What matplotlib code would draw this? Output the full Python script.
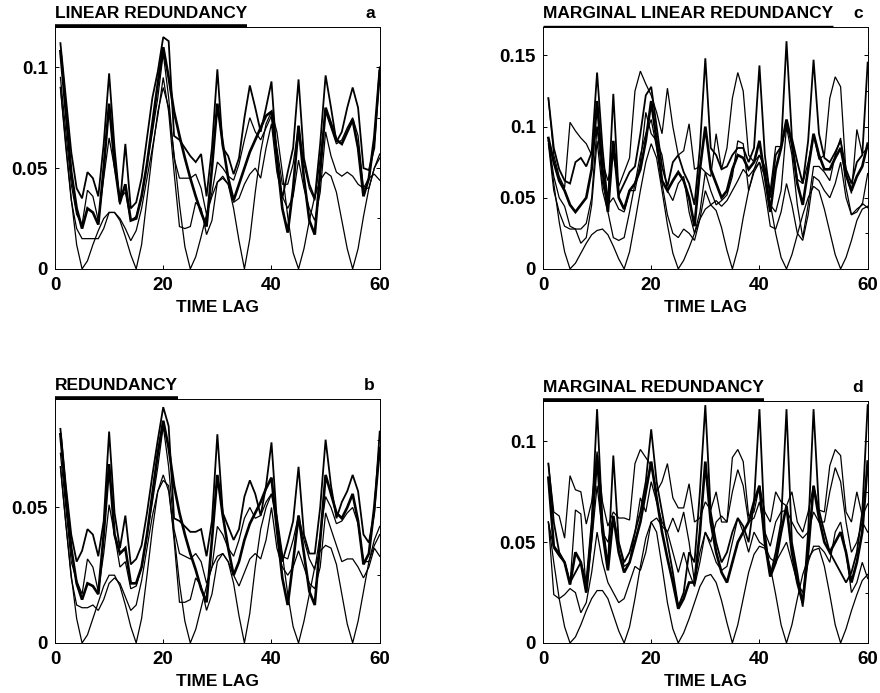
import numpy as np
import matplotlib
matplotlib.use("Agg")
import matplotlib.pyplot as plt
from matplotlib.ticker import MultipleLocator

plt.rcParams['font.family'] = ['Liberation Sans', 'DejaVu Sans']
plt.rcParams['font.weight'] = 'bold'

lags = list(range(1, 61))

# ---------------- panel a : LINEAR REDUNDANCY (values x 1e-3) ----------------
a_top = [112, 85, 58, 40, 35, 48, 45, 36, 62, 97,
         60, 32, 62, 30, 33, 45, 65, 85, 98, 115,
         113, 66, 64, 60, 56, 53, 57, 36, 60, 99,
         60, 56, 47, 55, 75, 91, 80, 68, 80, 93,
         55, 35, 48, 60, 94, 55, 42, 35, 62, 96,
         80, 63, 68, 80, 90, 80, 50, 49, 60, 100]
a_thick = [108, 78, 48, 30, 20, 30, 28, 22, 50, 82,
           52, 33, 42, 24, 25, 36, 52, 72, 92, 110,
           95, 78, 66, 55, 45, 36, 28, 21, 50, 82,
           62, 45, 34, 42, 50, 58, 64, 70, 76, 78,
           55, 30, 18, 40, 71, 45, 24, 17, 48, 80,
           72, 64, 62, 68, 74, 60, 36, 45, 65, 98]
a_mid = [95, 68, 42, 27, 22, 39, 36, 24, 45, 65,
         50, 35, 38, 24, 26, 36, 52, 68, 85, 107,
         85, 55, 45, 45, 45, 47, 40, 27, 38, 53,
         50, 46, 44, 52, 64, 75, 68, 64, 70, 76,
         60, 42, 42, 52, 71, 52, 40, 34, 55, 78,
         70, 62, 64, 70, 75, 66, 40, 40, 50, 57]
a_low = [90, 60, 34, 20, 15, 15, 15, 15, 20, 28,
         28, 25, 20, 14, 19, 30, 45, 60, 76, 95,
         78, 48, 21, 20, 21, 33, 30, 17, 24, 43,
         45, 42, 33, 35, 42, 47, 50, 45, 60, 72,
         48, 36, 30, 36, 54, 40, 30, 24, 38, 68,
         56, 48, 46, 48, 46, 42, 40, 45, 47, 44]
a_bot = [90, 62, 35, 12, 0, 4, 12, 19, 25, 28,
         28, 24, 16, 7, 0, 12, 35, 58, 78, 90,
         80, 57, 32, 11, 0, 6, 16, 27, 36, 43,
         46, 42, 30, 14, 0, 15, 38, 58, 72, 78,
         68, 48, 26, 8, 0, 10, 24, 36, 44, 48,
         46, 38, 24, 10, 0, 10, 26, 40, 50, 55]

# ---------------- panel b : REDUNDANCY ----------------
b_top = [79, 58, 40, 30, 34, 42, 40, 32, 45, 78,
         48, 35, 47, 29, 31, 36, 48, 62, 75, 87,
         80, 46, 45, 43, 41, 41, 42, 32, 45, 77,
         48, 43, 38, 42, 54, 60, 55, 47, 58, 74,
         45, 30, 37, 45, 65, 40, 33, 33, 50, 75,
         58, 46, 52, 56, 62, 56, 40, 37, 48, 78]
b_thick = [77, 55, 35, 22, 16, 22, 21, 18, 40, 66,
           40, 33, 35, 22, 22, 28, 40, 55, 70, 82,
           72, 58, 48, 40, 33, 27, 20, 15, 38, 62,
           47, 35, 25, 30, 38, 44, 48, 52, 57, 61,
           42, 24, 14, 30, 47, 33, 19, 14, 38, 62,
           55, 48, 46, 50, 55, 45, 29, 33, 50, 72]
b_mid = [70, 50, 30, 23, 18, 31, 28, 19, 33, 51,
         40, 28, 30, 20, 21, 28, 40, 52, 65, 80,
         65, 42, 33, 32, 31, 33, 30, 22, 28, 43,
         40, 35, 32, 38, 46, 50, 46, 47, 52, 55,
         44, 32, 31, 38, 47, 38, 31, 27, 40, 54,
         50, 44, 45, 48, 50, 44, 30, 30, 38, 43]
b_low = [65, 44, 24, 14, 13, 13, 14, 12, 16, 22,
         24, 22, 17, 12, 14, 23, 35, 47, 56, 60,
         58, 38, 15, 15, 16, 24, 21, 12, 18, 30,
         33, 30, 25, 21, 26, 31, 33, 31, 38, 50,
         35, 28, 25, 28, 34, 28, 22, 20, 28, 48,
         42, 36, 30, 31, 31, 28, 24, 28, 35, 32]
b_bot = [65, 44, 25, 9, 0, 3, 9, 15, 21, 25,
         25, 21, 14, 6, 0, 9, 25, 42, 56, 62,
         56, 40, 22, 8, 0, 5, 13, 21, 28, 32,
         33, 30, 22, 10, 0, 11, 28, 42, 50, 55,
         47, 33, 18, 6, 0, 8, 18, 28, 34, 36,
         35, 29, 18, 7, 0, 8, 19, 30, 36, 40]

# ---------------- panel c : MARGINAL LINEAR REDUNDANCY ----------------
c_top = [120, 85, 70, 62, 60, 75, 78, 72, 82, 138,
         85, 45, 123, 52, 60, 68, 72, 95, 122, 128,
         100, 72, 58, 75, 80, 68, 60, 45, 85, 148,
         85, 80, 70, 72, 80, 85, 85, 75, 85, 143,
         80, 50, 80, 86, 160, 92, 75, 60, 90, 147,
         95, 78, 75, 82, 90, 70, 60, 75, 80, 145]
c_thick = [92, 75, 62, 55, 45, 40, 45, 50, 70, 118,
           70, 40, 90, 50, 42, 55, 60, 70, 90, 118,
           90, 62, 55, 62, 68, 62, 50, 30, 70, 100,
           70, 60, 50, 55, 70, 80, 78, 70, 75, 90,
           65, 40, 70, 85, 105, 88, 60, 45, 70, 95,
           80, 70, 70, 78, 85, 66, 55, 65, 72, 88]
c_up = [120, 80, 65, 57, 103, 97, 92, 88, 80, 100,
        75, 62, 80, 58, 68, 78, 125, 139, 130, 122,
        110, 95, 127, 100, 80, 83, 102, 70, 72, 68,
        65, 95, 70, 85, 120, 138, 125, 80, 75, 80,
        72, 55, 86, 86, 100, 91, 63, 60, 75, 94,
        77, 80, 120, 135, 128, 67, 53, 98, 81, 85]
c_mid = [90, 65, 50, 44, 30, 28, 28, 32, 50, 100,
         60, 45, 50, 42, 40, 55, 55, 75, 110, 95,
         90, 80, 55, 48, 60, 65, 40, 25, 40, 68,
         55, 45, 48, 52, 65, 90, 88, 55, 70, 80,
         70, 45, 40, 55, 100, 80, 45, 22, 45, 72,
         72, 68, 62, 80, 92, 57, 38, 40, 46, 43]
c_low = [88, 55, 40, 30, 28, 28, 18, 22, 45, 90,
         55, 40, 22, 20, 22, 40, 60, 80, 95, 105,
         85, 60, 38, 25, 22, 28, 25, 20, 35, 55,
         45, 48, 44, 48, 55, 62, 70, 65, 70, 75,
         55, 30, 28, 40, 60, 45, 25, 20, 38, 65,
         62, 55, 50, 60, 75, 50, 38, 42, 45, 67]
c_bot = [90, 60, 33, 12, 0, 4, 11, 18, 24, 27,
         28, 24, 16, 7, 0, 12, 33, 55, 75, 88,
         78, 55, 31, 11, 0, 6, 15, 25, 35, 42,
         45, 41, 29, 13, 0, 14, 36, 55, 68, 75,
         65, 46, 25, 8, 0, 10, 24, 38, 50, 58,
         55, 42, 26, 10, 0, 8, 20, 34, 42, 44]

# ---------------- panel d : MARGINAL REDUNDANCY ----------------
d_top = [89, 60, 45, 40, 30, 35, 40, 30, 60, 116,
         60, 38, 93, 50, 40, 45, 55, 65, 80, 106,
         80, 65, 50, 35, 18, 25, 45, 40, 75, 118,
         65, 50, 40, 45, 55, 62, 58, 50, 70, 116,
         55, 33, 45, 60, 116, 50, 35, 18, 55, 116,
         66, 55, 45, 40, 35, 30, 35, 45, 65, 118]
d_thick = [82, 48, 44, 40, 29, 45, 40, 25, 55, 93,
           55, 36, 63, 45, 35, 40, 50, 60, 75, 90,
           72, 55, 42, 30, 17, 22, 30, 30, 55, 90,
           60, 45, 35, 30, 40, 50, 55, 60, 70, 78,
           50, 33, 40, 55, 68, 45, 30, 20, 45, 78,
           62, 50, 45, 50, 55, 45, 30, 40, 55, 90]
d_up = [89, 65, 63, 52, 83, 76, 75, 59, 70, 95,
        70, 58, 65, 62, 62, 61, 89, 96, 92, 88,
        75, 80, 89, 72, 67, 67, 79, 60, 62, 70,
        66, 75, 60, 60, 92, 96, 90, 63, 65, 78,
        65, 60, 75, 70, 68, 75, 60, 55, 65, 78,
        66, 65, 88, 96, 93, 65, 60, 75, 63, 69]
d_mid = [60, 47, 43, 40, 29, 66, 64, 25, 50, 78,
         55, 50, 63, 50, 38, 40, 55, 72, 65, 80,
         70, 60, 55, 62, 55, 65, 50, 30, 45, 55,
         50, 60, 63, 60, 75, 86, 78, 60, 62, 70,
         55, 48, 60, 65, 66, 60, 55, 52, 55, 65,
         60, 60, 75, 87, 80, 60, 45, 50, 60, 55]
d_low = [60, 24, 22, 24, 27, 25, 15, 20, 35, 55,
         40, 30, 25, 20, 22, 30, 38, 36, 45, 60,
         62, 58, 55, 45, 35, 45, 35, 28, 40, 55,
         48, 40, 36, 38, 50, 62, 55, 45, 55, 50,
         48, 42, 40, 45, 50, 40, 30, 25, 40, 48,
         48, 45, 40, 55, 60, 45, 25, 30, 40, 32]
d_bot = [60, 40, 22, 8, 0, 3, 9, 16, 22, 26,
         26, 22, 14, 6, 0, 8, 22, 38, 52, 60,
         55, 38, 20, 7, 0, 5, 12, 20, 28, 33,
         34, 30, 21, 10, 0, 9, 22, 35, 44, 48,
         47, 38, 24, 9, 0, 9, 22, 34, 42, 46,
         47, 38, 24, 9, 0, 7, 16, 24, 31, 34]

titles = ["LINEAR REDUNDANCY", "REDUNDANCY",
          "MARGINAL LINEAR REDUNDANCY", "MARGINAL REDUNDANCY"]
letters = ["a", "b", "c", "d"]
ymaxes = [0.12, 0.09, 0.17, 0.12]
yticks = [[0, 0.05, 0.1], [0, 0.05], [0, 0.05, 0.1, 0.15], [0, 0.05, 0.1]]
yticklabels = [["0", "0.05", "0.1"], ["0", "0.05"],
               ["0", "0.05", "0.1", "0.15"], ["0", "0.05", "0.1"]]
panel_data = [
    (a_top, a_thick, a_mid, a_low, a_bot),
    (b_top, b_thick, b_mid, b_low, b_bot),
    (c_top, c_thick, c_up, c_mid, c_low, c_bot),
    (d_top, d_thick, d_up, d_mid, d_low, d_bot),
]
positions = [
    [0.0625, 0.612, 0.369, 0.349],
    [0.0625, 0.0722, 0.369, 0.352],
    [0.617, 0.612, 0.369, 0.349],
    [0.617, 0.0722, 0.369, 0.349],
]
underline_w = [2.6, 2.6, 1.0, 2.6]

fig = plt.figure(figsize=(8.8, 6.93), dpi=100)
fig.patch.set_facecolor('white')
axes = []
for i in range(4):
    ax = fig.add_axes(positions[i])
    axes.append(ax)
    series = panel_data[i]
    for k, s in enumerate(series):
        vals = np.array(s) / 1000.0
        lw = 1.9 if k == 1 else (1.3 if k == 0 else 0.9)
        ax.plot(lags, vals, color='black', lw=lw, solid_joinstyle='miter')
    ax.set_xlim(0, 60)
    ax.set_ylim(0, ymaxes[i])
    ax.set_xticks([0, 20, 40, 60])
    ax.set_xticklabels(["0", "20", "40", "60"])
    ax.set_yticks(yticks[i])
    ax.set_yticklabels(yticklabels[i])
    ax.yaxis.set_minor_locator(MultipleLocator(0.025))
    ax.tick_params(axis='both', which='major', direction='in', length=3,
                   width=0.7, labelsize=13.5, right=True)
    ax.tick_params(axis='x', which='major', pad=6)
    ax.tick_params(axis='y', which='major', pad=5)
    ax.tick_params(axis='y', which='minor', direction='in', length=2.5,
                   width=0.7, left=False, right=True)
    for lab in ax.get_xticklabels() + ax.get_yticklabels():
        lab.set_fontweight('bold')
    for sp in ax.spines.values():
        sp.set_linewidth(0.7)
    ax.set_xlabel("TIME LAG", fontsize=12.5, fontweight='bold', labelpad=4)
    t = ax.text(0.0, 1.025, titles[i], transform=ax.transAxes, ha='left',
                va='bottom', fontsize=12.5, fontweight='bold')
    ax.text(0.985, 1.025, letters[i], transform=ax.transAxes, ha='right',
            va='bottom', fontsize=12.5, fontweight='bold')
    ax._title_artist = t

fig.canvas.draw()
renderer = fig.canvas.get_renderer()
for i, ax in enumerate(axes):
    bb = ax._title_artist.get_window_extent(renderer)
    inv = ax.transAxes.inverted()
    x1 = inv.transform((bb.x1, bb.y0))[0]
    ax.plot([0, x1], [1.006, 1.006], transform=ax.transAxes, color='black',
            lw=underline_w[i], clip_on=False, solid_capstyle='butt')

fig.savefig("out.png", dpi=100, facecolor='white')
